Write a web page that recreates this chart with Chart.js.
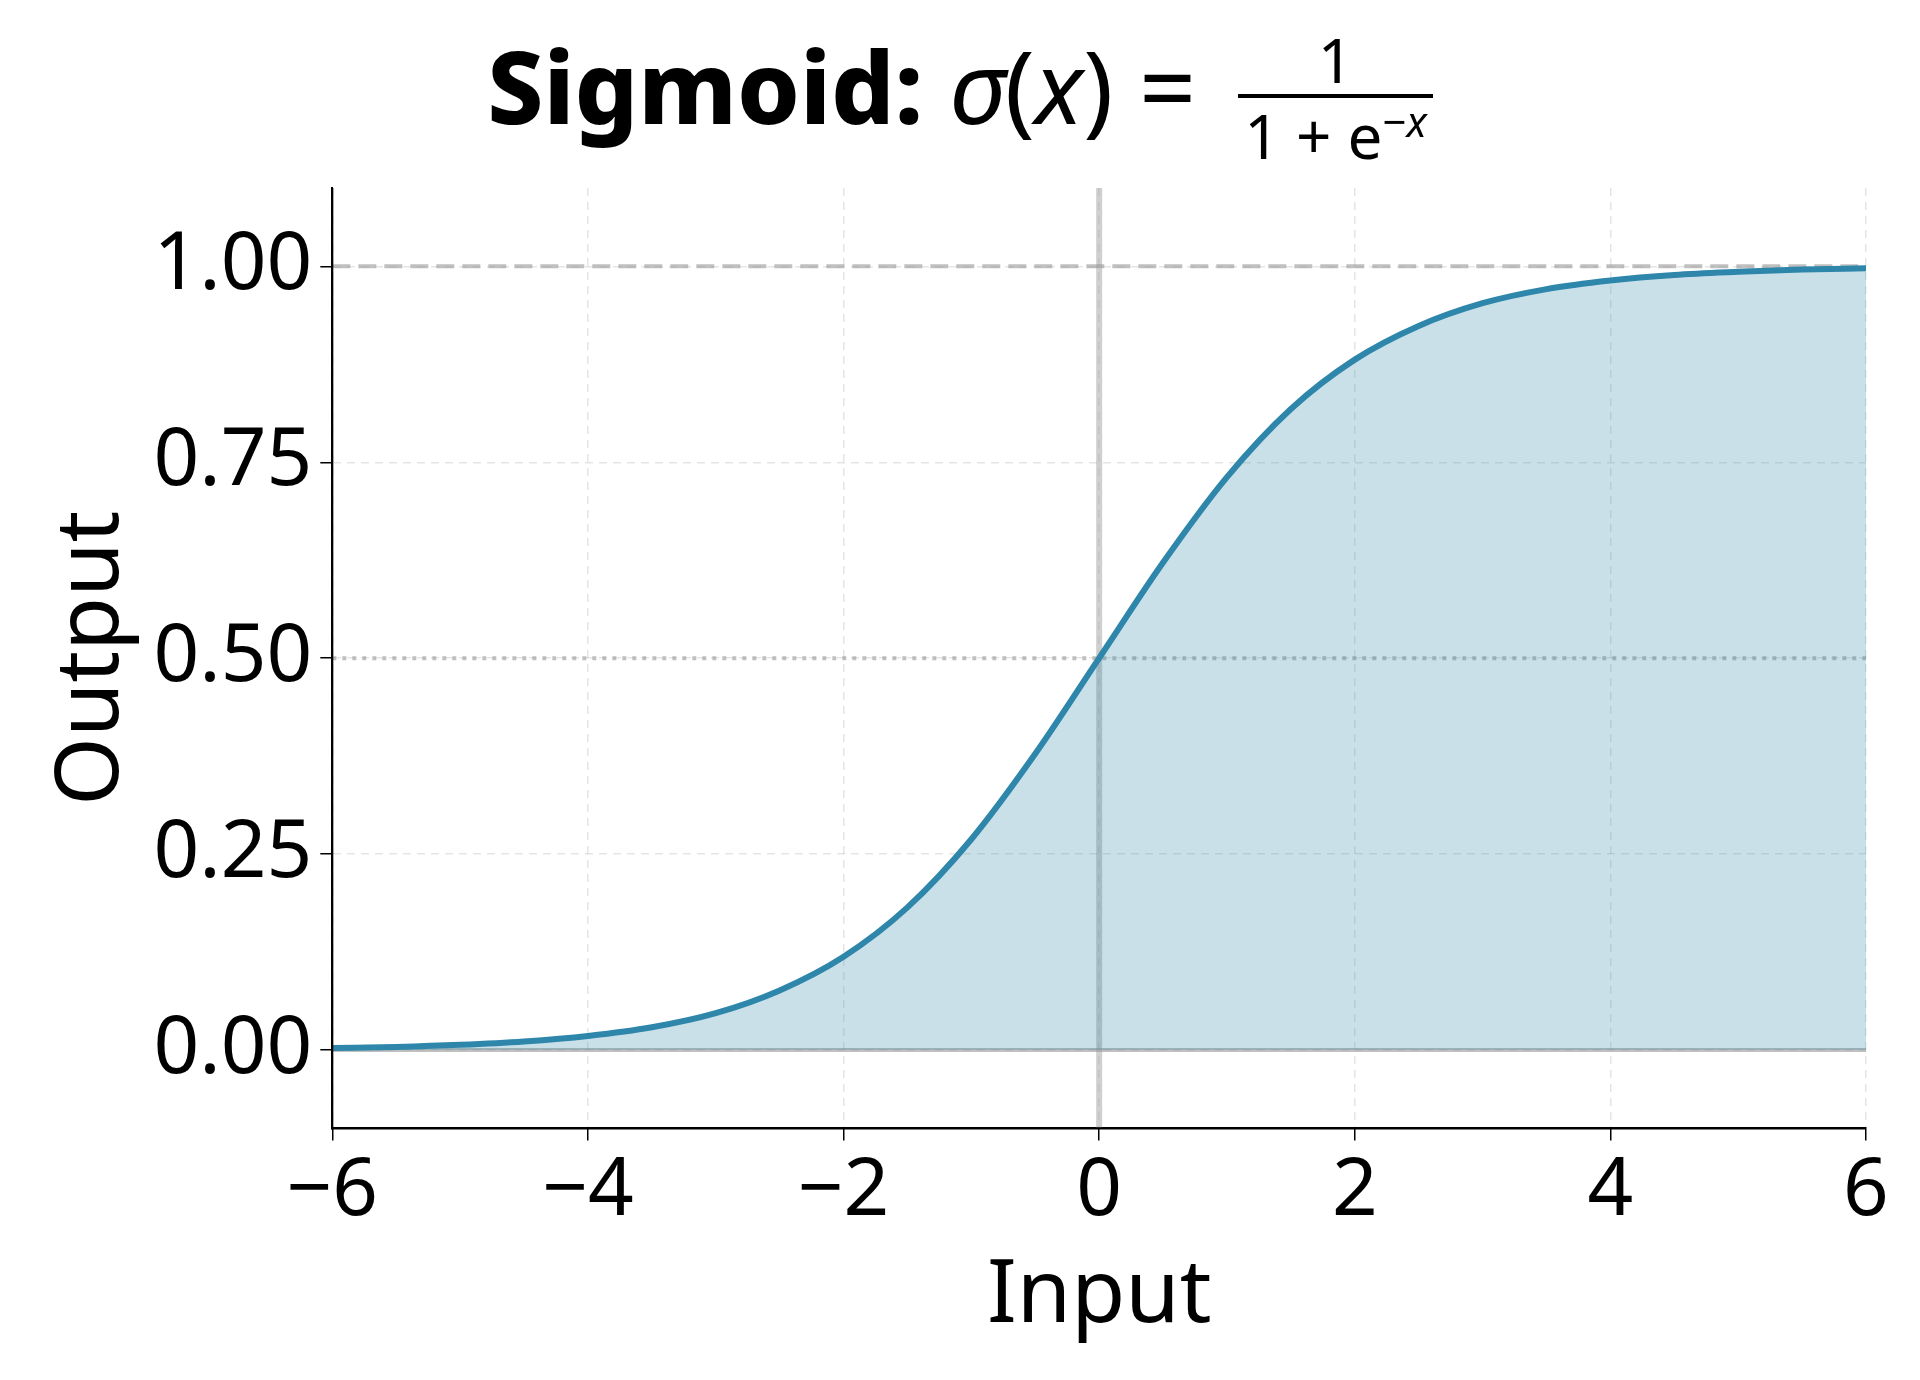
<!DOCTYPE html>
<html>
<head>
<meta charset="utf-8">
<script src="https://cdn.jsdelivr.net/npm/chart.js@4.4.1/dist/chart.umd.min.js"></script>
<style>
  html, body { margin: 0; padding: 0; background: #fff; }
  #wrap { position: relative; width: 1920px; height: 1380px; }
  #titulo { position: absolute; top: 28px; left: 0; width: 1920px; text-align: center;
    font-family: 'Noto Sans', sans-serif; font-size: 100px; color: #000; line-height: 1; }
  #titulo b { font-weight: 800; }
  .frac { display: inline-block; vertical-align: middle; text-align: center; font-size: 62px; margin-left: 16px; }
  .frac span { display: block; padding: 0 6px; }
  .frac .num { border-bottom: 4px solid #000; padding-bottom: 4px; }
  .frac .den { padding-top: 2px; }
</style>
</head>
<body>
<div id="wrap">
  <div id="titulo"><b>Sigmoid:</b> <i>σ</i>(<i>x</i>) = <span class="frac"><span class="num">1</span><span class="den">1 + e<sup style="font-size:42px">−<i>x</i></sup></span></span></div>
  <canvas id="grafico" width="1920" height="1380"></canvas>
</div>
<script>
const entradas = [-6, -5.5, -5, -4.5, -4, -3.5, -3, -2.5, -2, -1.5, -1, -0.5, 0, 0.5, 1, 1.5, 2, 2.5, 3, 3.5, 4, 4.5, 5, 5.5, 6];
const saidas = [0.0025, 0.004, 0.0067, 0.011, 0.018, 0.029, 0.047, 0.076, 0.119, 0.182, 0.269, 0.378, 0.5, 0.622, 0.731, 0.818, 0.881, 0.924, 0.953, 0.971, 0.982, 0.989, 0.993, 0.996, 0.9975];
const ticksX = [-6, -4, -2, 0, 2, 4, 6];
const ticksY = [0, 0.25, 0.5, 0.75, 1];

const pontos = entradas.map((x, i) => ({ x, y: saidas[i] }));
const linhaH = (y) => [{ x: -6, y }, { x: 6, y }];

function formatarMenos(v) {
  return String(v).replace('-', '\u2212');
}

new Chart(document.querySelector('#grafico'), {
  type: 'line',
  data: {
    datasets: [
      {
        data: pontos,
        borderColor: '#2E86AB',
        backgroundColor: 'rgba(46,134,171,0.26)',
        borderWidth: 6,
        fill: 'origin',
        pointRadius: 0,
        cubicInterpolationMode: 'monotone',
        order: 0,
      },
      { data: linhaH(1), borderColor: 'rgba(150,150,150,0.6)', borderWidth: 4, borderDash: [18, 8], pointRadius: 0, order: 1 },
      { data: linhaH(0.5), borderColor: 'rgba(150,150,150,0.6)', borderWidth: 4, borderDash: [4, 6], pointRadius: 0, order: 1 },
      { data: linhaH(0), borderColor: 'rgba(150,150,150,0.6)', borderWidth: 4, pointRadius: 0, order: 1 },
      { data: [{ x: 0, y: -0.1 }, { x: 0, y: 1.1 }], borderColor: 'rgba(150,150,150,0.45)', borderWidth: 6, pointRadius: 0, order: 1 },
    ],
  },
  options: {
    responsive: false,
    animation: false,
    layout: { padding: { top: 188, right: 54, bottom: 30, left: 40 } },
    plugins: { legend: { display: false }, tooltip: { enabled: false } },
    scales: {
      x: {
        type: 'linear',
        min: -6,
        max: 6,
        afterBuildTicks: (eixo) => { eixo.ticks = ticksX.map((value) => ({ value })); },
        ticks: { color: '#000', font: { family: 'Noto Sans', size: 80 }, padding: 4, callback: (v) => formatarMenos(v) },
        grid: { color: 'rgba(0,0,0,0.1)', lineWidth: 1.5, tickLength: 12, tickColor: '#000' },
        border: { color: '#000', width: 2, dash: [8, 6] },
        title: { display: true, text: 'Input', color: '#000', font: { family: 'Noto Sans', size: 88 }, padding: 0 },
      },
      y: {
        min: -0.1,
        max: 1.1,
        afterBuildTicks: (eixo) => { eixo.ticks = ticksY.map((value) => ({ value })); },
        ticks: { color: '#000', font: { family: 'Noto Sans', size: 80 }, padding: 8, callback: (v) => v.toFixed(2) },
        grid: { color: 'rgba(0,0,0,0.1)', lineWidth: 1.5, tickLength: 12, tickColor: '#000' },
        border: { color: '#000', width: 2, dash: [8, 6] },
        title: { display: true, text: 'Output', color: '#000', font: { family: 'Noto Sans', size: 88 }, padding: 0 },
      },
    },
  },
  plugins: [{
    id: 'eixosSolidos',
    afterDraw(chart) {
      const { ctx, chartArea: a } = chart;
      ctx.save();
      ctx.strokeStyle = '#000';
      ctx.lineWidth = 2;
      ctx.beginPath();
      ctx.moveTo(a.left, a.top);
      ctx.lineTo(a.left, a.bottom);
      ctx.lineTo(a.right, a.bottom);
      ctx.stroke();
      ctx.restore();
    },
  }],
});
</script>
</body>
</html>
